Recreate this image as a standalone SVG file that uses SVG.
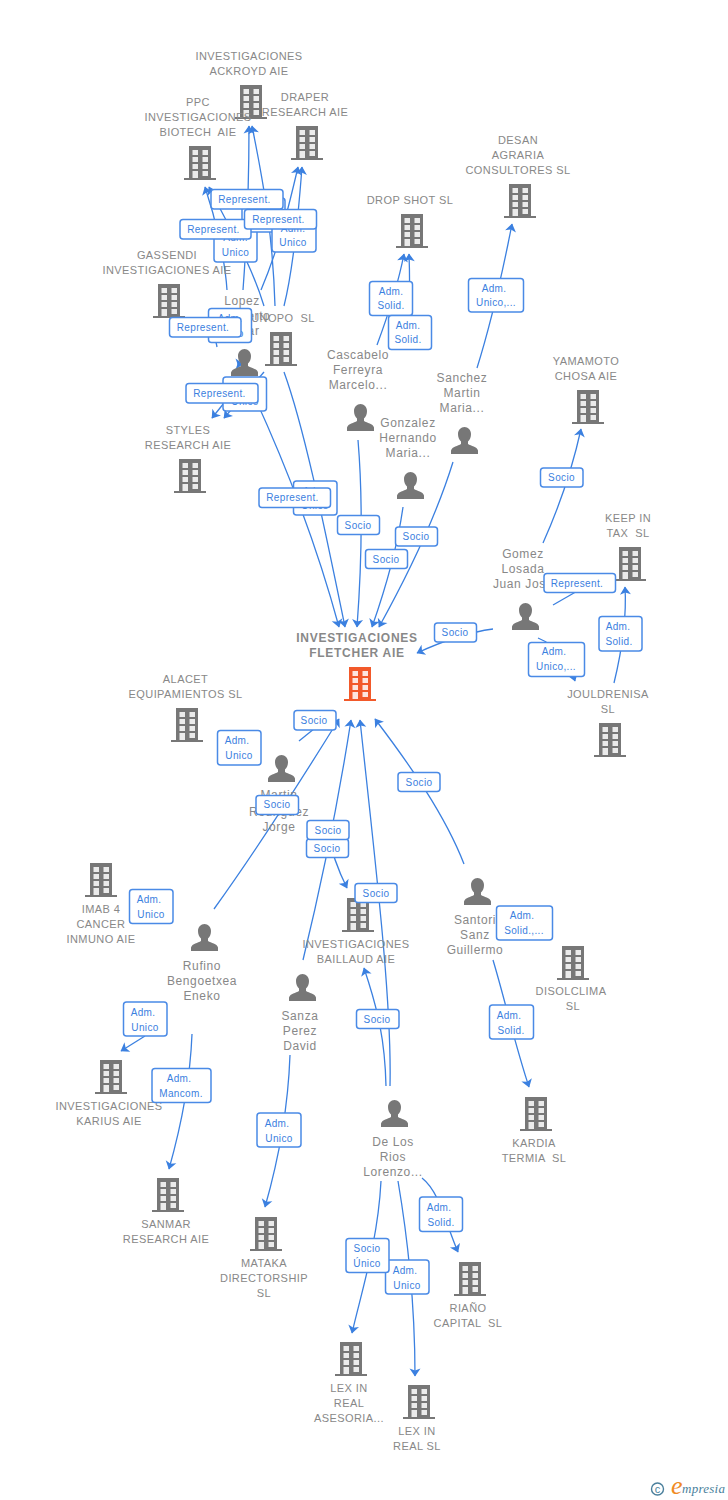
<svg xmlns="http://www.w3.org/2000/svg" width="728" height="1500" viewBox="0 0 728 1500">
<style>
text{font-family:"Liberation Sans",Arial,sans-serif;white-space:pre}
.n{font-size:11px;letter-spacing:.42px;fill:#888;text-anchor:middle}
.p{font-size:12px;letter-spacing:.6px;fill:#888;text-anchor:middle}
.f{font-size:12px;font-weight:700;letter-spacing:.72px;fill:#888;text-anchor:middle}
.e{fill:none;stroke:#3b80e0;stroke-width:1.3;marker-end:url(#a)}
.o{fill:none;stroke:#3b80e0;stroke-width:1.3}
.b{fill:#fff;stroke:#4a8ae6;stroke-width:1.5}
.l{font-size:10px;letter-spacing:.35px;fill:#3b80e0;text-anchor:middle}
</style>
<defs>
<marker id="a" markerUnits="userSpaceOnUse" markerWidth="12" markerHeight="14" refX="8" refY="6" orient="auto"><path d="M8.500,6 L0.500,0.500 L2.500,6 L0.500,11.500 Z" fill="#3b80e0"/></marker>
<g id="bd"><path d="M5,0H27V32H32V34H0V32H5Z"/><path fill="#fff" fill-opacity=".85" d="M8.500,4V9H14V4ZM18.500,4V9H24V4ZM8.500,11V16H14V11ZM18.500,11V16H24V11ZM8.500,18V23H14V18ZM18.500,18V23H24V18ZM8.500,25V32H14V25ZM18.500,25V30H24V25Z"/></g>
<g id="pr"><path d="M13.500,0C10,0 7,3 7,7C7,10 8,12.500 10,14.500V17C7,19 1,19.500 0,23.500V27H27V23.500C26,19.500 20,19 17,17V14.500C19,12.500 20,10 20,7C20,3 17,0 13.500,0Z" fill="#777"/></g>
</defs>
<rect width="728" height="1500" fill="#fff"/>
<g id="connectors">
<path class="e" d="M227,290C225,260 216,220 205,187"/>
<path class="e" d="M243,290C246,250 249,190 249,126"/>
<path class="e" d="M264,306C250,260 225,220 209,187"/>
<path class="e" d="M261,290C278,250 288,210 298,167"/>
<path class="e" d="M275,306C273,240 265,190 252,126"/>
<path class="e" d="M284,306C293,270 298,220 302,167"/>
<path class="o" d="M212,322L217,347"/>
<path class="e" d="M237,364L243,364"/>
<path class="e" d="M236,388L212,418"/>
<path class="e" d="M264,372L224,418"/>
<path class="e" d="M249,385C270,430 310,520 339,627"/>
<path class="e" d="M284,372C305,430 325,530 345,627"/>
<path class="e" d="M358,440C363,500 362,560 357,627"/>
<path class="e" d="M403,507C397,550 385,590 372,627"/>
<path class="e" d="M453,462C435,520 405,580 379,627"/>
<path class="e" d="M377,345C390,310 398,285 404,254"/>
<path class="e" d="M407,345C410,310 410,280 409,254"/>
<path class="e" d="M477,368C492,320 503,270 512,224"/>
<path class="e" d="M543,543C560,505 572,470 581,429"/>
<path class="e" d="M493,629C470,632 445,640 417,653"/>
<path class="o" d="M553,605L600,578"/>
<path class="e" d="M614,683C622,650 627,620 625,587"/>
<path class="e" d="M538,638C555,645 568,660 575,681"/>
<path class="o" d="M299,741L325,720"/>
<path class="e" d="M214,909C260,845 300,782 339,719"/>
<path class="e" d="M303,960C320,890 337,810 351,720"/>
<path class="e" d="M390,1086C392,1000 375,860 360,720"/>
<path class="e" d="M386,1086C385,1040 378,1010 364,968"/>
<path class="e" d="M464,864C445,815 410,765 375,719"/>
<path class="e" d="M327,830C331,850 338,870 347,888"/>
<path class="e" d="M145,1036L121,1051"/>
<path class="e" d="M192,1034C190,1085 180,1130 169,1169"/>
<path class="e" d="M290,1055C288,1110 277,1165 265,1207"/>
<path class="e" d="M493,960C505,1000 515,1045 529,1087"/>
<path class="e" d="M422,1178C440,1192 446,1225 458,1252"/>
<path class="e" d="M381,1181C378,1240 362,1290 352,1333"/>
<path class="e" d="M398,1181C408,1240 415,1310 415,1376"/>
</g>
<g id="n-fletcher"><text class="f" x="357" y="642">INVESTIGACIONES</text><text class="f" x="357" y="657">FLETCHER AIE</text><use href="#bd" x="344" y="667" fill="#f2592a"/></g>
<g id="n-ackroyd" fill="#777"><text class="n" x="249" y="60">INVESTIGACIONES</text><text class="n" x="249" y="75">ACKROYD AIE</text><use href="#bd" x="235" y="85"/></g>
<g id="n-ppc" fill="#777"><text class="n" x="198" y="106">PPC</text><text class="n" x="198" y="121">INVESTIGACIONES</text><text class="n" x="198" y="136">BIOTECH  AIE</text><use href="#bd" x="184" y="146"/></g>
<g id="n-draper" fill="#777"><text class="n" x="305" y="101">DRAPER</text><text class="n" x="305" y="116">RESEARCH AIE</text><use href="#bd" x="291" y="126"/></g>
<g id="n-desan" fill="#777"><text class="n" x="518" y="144">DESAN</text><text class="n" x="518" y="159">AGRARIA</text><text class="n" x="518" y="174">CONSULTORES SL</text><use href="#bd" x="504" y="184"/></g>
<g id="n-dropshot" fill="#777"><text class="n" x="410" y="204">DROP SHOT SL</text><use href="#bd" x="396" y="214"/></g>
<g id="n-gassendi" fill="#777"><text class="n" x="167" y="259">GASSENDI</text><text class="n" x="167" y="274">INVESTIGACIONES AIE</text><use href="#bd" x="153" y="284"/></g>
<g id="n-unopo" fill="#777"><text class="n" x="283" y="322">UNOPO  SL</text><use href="#bd" x="265" y="332"/></g>
<g id="n-styles" fill="#777"><text class="n" x="188" y="434">STYLES</text><text class="n" x="188" y="449">RESEARCH AIE</text><use href="#bd" x="174" y="459"/></g>
<g id="n-yamamoto" fill="#777"><text class="n" x="586" y="365">YAMAMOTO</text><text class="n" x="586" y="380">CHOSA AIE</text><use href="#bd" x="572" y="390"/></g>
<g id="n-keepin" fill="#777"><text class="n" x="628" y="522">KEEP IN</text><text class="n" x="628" y="537">TAX  SL</text><use href="#bd" x="614" y="547"/></g>
<g id="n-jouldrenisa" fill="#777"><text class="n" x="608" y="698">JOULDRENISA</text><text class="n" x="608" y="713">SL</text><use href="#bd" x="594" y="723"/></g>
<g id="n-alacet" fill="#777"><text class="n" x="185.500" y="683">ALACET</text><text class="n" x="185.500" y="698">EQUIPAMIENTOS SL</text><use href="#bd" x="171" y="708"/></g>
<g id="n-imab" fill="#777"><use href="#bd" x="85" y="863"/><text class="n" x="101" y="913">IMAB 4</text><text class="n" x="101" y="928">CANCER</text><text class="n" x="101" y="943">INMUNO AIE</text></g>
<g id="n-baillaud" fill="#777"><use href="#bd" x="342" y="898"/><text class="n" x="356" y="948">INVESTIGACIONES</text><text class="n" x="356" y="963">BAILLAUD AIE</text></g>
<g id="n-disolclima" fill="#777"><use href="#bd" x="557" y="946"/><text class="n" x="571" y="995">DISOLCLIMA</text><text class="n" x="573" y="1010">SL</text></g>
<g id="n-karius" fill="#777"><use href="#bd" x="95" y="1060"/><text class="n" x="109" y="1110">INVESTIGACIONES</text><text class="n" x="109" y="1125">KARIUS AIE</text></g>
<g id="n-kardia" fill="#777"><use href="#bd" x="520" y="1097"/><text class="n" x="534" y="1147">KARDIA</text><text class="n" x="534" y="1162">TERMIA  SL</text></g>
<g id="n-sanmar" fill="#777"><use href="#bd" x="152" y="1178"/><text class="n" x="166" y="1228">SANMAR</text><text class="n" x="166" y="1243">RESEARCH AIE</text></g>
<g id="n-mataka" fill="#777"><use href="#bd" x="250" y="1217"/><text class="n" x="264" y="1267">MATAKA</text><text class="n" x="264" y="1282">DIRECTORSHIP</text><text class="n" x="264" y="1297">SL</text></g>
<g id="n-riano" fill="#777"><use href="#bd" x="454" y="1262"/><text class="n" x="468" y="1312">RIAÑO</text><text class="n" x="468" y="1327">CAPITAL  SL</text></g>
<g id="n-lexasesoria" fill="#777"><use href="#bd" x="335" y="1342"/><text class="n" x="349" y="1392">LEX IN</text><text class="n" x="349" y="1407">REAL</text><text class="n" x="349" y="1422">ASESORIA...</text></g>
<g id="n-lexreal" fill="#777"><use href="#bd" x="403" y="1385"/><text class="n" x="417" y="1435">LEX IN</text><text class="n" x="417" y="1450">REAL SL</text></g>
<g id="p-lopez"><text class="p" x="242" y="305">Lopez</text><text class="p" x="242" y="320">Adalberto</text><text class="p" x="242" y="335">Oscar</text><use href="#pr" x="231" y="349"/></g>
<g id="p-cascabelo"><text class="p" x="358" y="359">Cascabelo</text><text class="p" x="358" y="374">Ferreyra</text><text class="p" x="358" y="389">Marcelo...</text><use href="#pr" x="347" y="404"/></g>
<g id="p-gonzalez"><text class="p" x="408" y="427">Gonzalez</text><text class="p" x="408" y="442">Hernando</text><text class="p" x="408" y="457">Maria...</text><use href="#pr" x="397" y="472"/></g>
<g id="p-sanchez"><text class="p" x="462" y="382">Sanchez</text><text class="p" x="462" y="397">Martin</text><text class="p" x="462" y="412">Maria...</text><use href="#pr" x="451" y="427"/></g>
<g id="p-gomez"><text class="p" x="523" y="558">Gomez</text><text class="p" x="523" y="573">Losada</text><text class="p" x="523" y="588">Juan Jose</text><use href="#pr" x="512" y="603"/></g>
<g id="p-martin"><use href="#pr" x="268" y="755"/><text class="p" x="279" y="799">Martin</text><text class="p" x="279" y="816">Rodriguez</text><text class="p" x="279" y="831">Jorge</text></g>
<g id="p-santori"><use href="#pr" x="464" y="878"/><text class="p" x="475" y="924">Santori</text><text class="p" x="475" y="939">Sanz</text><text class="p" x="475" y="954">Guillermo</text></g>
<g id="p-rufino"><use href="#pr" x="191" y="924"/><text class="p" x="202" y="970">Rufino</text><text class="p" x="202" y="985">Bengoetxea</text><text class="p" x="202" y="1000">Eneko</text></g>
<g id="p-sanza"><use href="#pr" x="289" y="974"/><text class="p" x="300" y="1020">Sanza</text><text class="p" x="300" y="1035">Perez</text><text class="p" x="300" y="1050">David</text></g>
<g id="p-delosrios"><use href="#pr" x="381" y="1100"/><text class="p" x="393" y="1146">De Los</text><text class="p" x="393" y="1161">Rios</text><text class="p" x="393" y="1176">Lorenzo...</text></g>
<g id="labels">
<rect class="b" x="214" y="228" width="43" height="34" rx="3"/><text class="l" x="235.500" y="241">Adm.</text><text class="l" x="235.500" y="256">Unico</text>
<rect class="b" x="242" y="198" width="43" height="34" rx="3"/><text class="l" x="263.500" y="211">Adm.</text><text class="l" x="263.500" y="226">Unico</text>
<rect class="b" x="272" y="218" width="44" height="34" rx="3"/><text class="l" x="293" y="232">Adm.</text><text class="l" x="293" y="246">Unico</text>
<rect class="b" x="211" y="189.500" width="72" height="19.500" rx="3"/><text class="l" x="244.500" y="202.500">Represent.</text>
<rect class="b" x="180" y="219.500" width="71" height="19.500" rx="3"/><text class="l" x="213.500" y="233">Represent.</text>
<rect class="b" x="244.500" y="209.500" width="72" height="19.500" rx="3"/><text class="l" x="278.500" y="223">Represent.</text>
<rect class="b" x="208.500" y="308.500" width="43" height="34" rx="3"/><text class="l" x="230" y="322">Adm.</text><text class="l" x="230" y="337">Unico</text>
<rect class="b" x="169.500" y="317.500" width="71.500" height="19.500" rx="3"/><text class="l" x="203" y="331">Represent.</text>
<rect class="b" x="223" y="377" width="43.500" height="34" rx="3"/><text class="l" x="245" y="391">Adm.</text><text class="l" x="245" y="405">Unico</text>
<rect class="b" x="186" y="383.500" width="72" height="19.500" rx="3"/><text class="l" x="219.500" y="397">Represent.</text>
<rect class="b" x="293.500" y="481" width="43.500" height="34" rx="3"/><text class="l" x="315" y="495">Adm.</text><text class="l" x="315" y="509">Unico</text>
<rect class="b" x="259" y="488" width="71.500" height="19.500" rx="3"/><text class="l" x="292.500" y="501">Represent.</text>
<rect class="b" x="369.500" y="281.500" width="43" height="34" rx="3"/><text class="l" x="391" y="295">Adm.</text><text class="l" x="391" y="309">Solid.</text>
<rect class="b" x="388.500" y="315.500" width="43" height="34" rx="3"/><text class="l" x="408" y="329">Adm.</text><text class="l" x="408" y="343">Solid.</text>
<rect class="b" x="468.500" y="278.500" width="55" height="33.500" rx="3"/><text class="l" x="494" y="292">Adm.</text><text class="l" x="496" y="306">Unico,...</text>
<rect class="b" x="337.500" y="515.500" width="42" height="19" rx="3"/><text class="l" x="358" y="528.500">Socio</text>
<rect class="b" x="395.500" y="527" width="42" height="19" rx="3"/><text class="l" x="416" y="540">Socio</text>
<rect class="b" x="365.500" y="549.500" width="42" height="19" rx="3"/><text class="l" x="386" y="562.500">Socio</text>
<rect class="b" x="434.500" y="623" width="42" height="19" rx="3"/><text class="l" x="455" y="636">Socio</text>
<rect class="b" x="540.500" y="468" width="42.500" height="19" rx="3"/><text class="l" x="561.500" y="481">Socio</text>
<rect class="b" x="544" y="573.500" width="71.500" height="19" rx="3"/><text class="l" x="577" y="587">Represent.</text>
<rect class="b" x="528.500" y="642.500" width="56" height="34" rx="3"/><text class="l" x="554" y="655">Adm.</text><text class="l" x="556" y="670">Unico,...</text>
<rect class="b" x="599" y="616.500" width="43" height="34.500" rx="3"/><text class="l" x="618" y="630">Adm.</text><text class="l" x="619" y="645">Solid.</text>
<rect class="b" x="294" y="710.500" width="42" height="19.500" rx="3"/><text class="l" x="314" y="724">Socio</text>
<rect class="b" x="217.500" y="730.500" width="43.500" height="34.500" rx="3"/><text class="l" x="237" y="744">Adm.</text><text class="l" x="239" y="759">Unico</text>
<rect class="b" x="256" y="795.500" width="42.500" height="19" rx="3"/><text class="l" x="277" y="808">Socio</text>
<rect class="b" x="398" y="772.500" width="42" height="19" rx="3"/><text class="l" x="419" y="786">Socio</text>
<rect class="b" x="306.500" y="839" width="42" height="18.500" rx="3"/><text class="l" x="327" y="852">Socio</text>
<rect class="b" x="307" y="820.500" width="42" height="19" rx="3"/><text class="l" x="328" y="834">Socio</text>
<rect class="b" x="355" y="883.500" width="42" height="19" rx="3"/><text class="l" x="376" y="897">Socio</text>
<rect class="b" x="129.500" y="889.500" width="43.500" height="34" rx="3"/><text class="l" x="149" y="903">Adm.</text><text class="l" x="151" y="918">Unico</text>
<rect class="b" x="496.500" y="906" width="56" height="34" rx="3"/><text class="l" x="522" y="919">Adm.</text><text class="l" x="524" y="934">Solid.,...</text>
<rect class="b" x="356.500" y="1009.500" width="42.500" height="19" rx="3"/><text class="l" x="377" y="1023">Socio</text>
<rect class="b" x="123.500" y="1002" width="43.500" height="34" rx="3"/><text class="l" x="143" y="1016">Adm.</text><text class="l" x="145" y="1031">Unico</text>
<rect class="b" x="489.500" y="1005" width="44" height="34" rx="3"/><text class="l" x="509" y="1019">Adm.</text><text class="l" x="511" y="1034">Solid.</text>
<rect class="b" x="152" y="1068.500" width="59" height="34" rx="3"/><text class="l" x="179" y="1082">Adm.</text><text class="l" x="181" y="1097">Mancom.</text>
<rect class="b" x="257" y="1113" width="44" height="34" rx="3"/><text class="l" x="277" y="1127">Adm.</text><text class="l" x="279" y="1142">Unico</text>
<rect class="b" x="419.500" y="1197" width="43" height="34.500" rx="3"/><text class="l" x="439" y="1211">Adm.</text><text class="l" x="441" y="1226">Solid.</text>
<rect class="b" x="385.500" y="1260" width="43.500" height="34" rx="3"/><text class="l" x="405" y="1274">Adm.</text><text class="l" x="407" y="1289">Unico</text>
<rect class="b" x="346" y="1238.500" width="43" height="34" rx="3"/><text class="l" x="367" y="1252">Socio</text><text class="l" x="367" y="1267">Único</text>
</g>
<g id="logo"><circle cx="657.500" cy="1489" r="6" fill="none" stroke="#4a7f9c" stroke-width="1.400"/><text x="657.500" y="1493" font-size="11" fill="#4a7f9c" text-anchor="middle">c</text><text x="671" y="1494" style="font-family:'Liberation Serif',serif" font-size="26" font-style="italic" fill="#f08a24">e</text><text x="682" y="1493" style="font-family:'Liberation Serif',serif" font-size="13" font-style="italic" letter-spacing=".25" fill="#4a7f9c">mpresia</text></g>
</svg>
